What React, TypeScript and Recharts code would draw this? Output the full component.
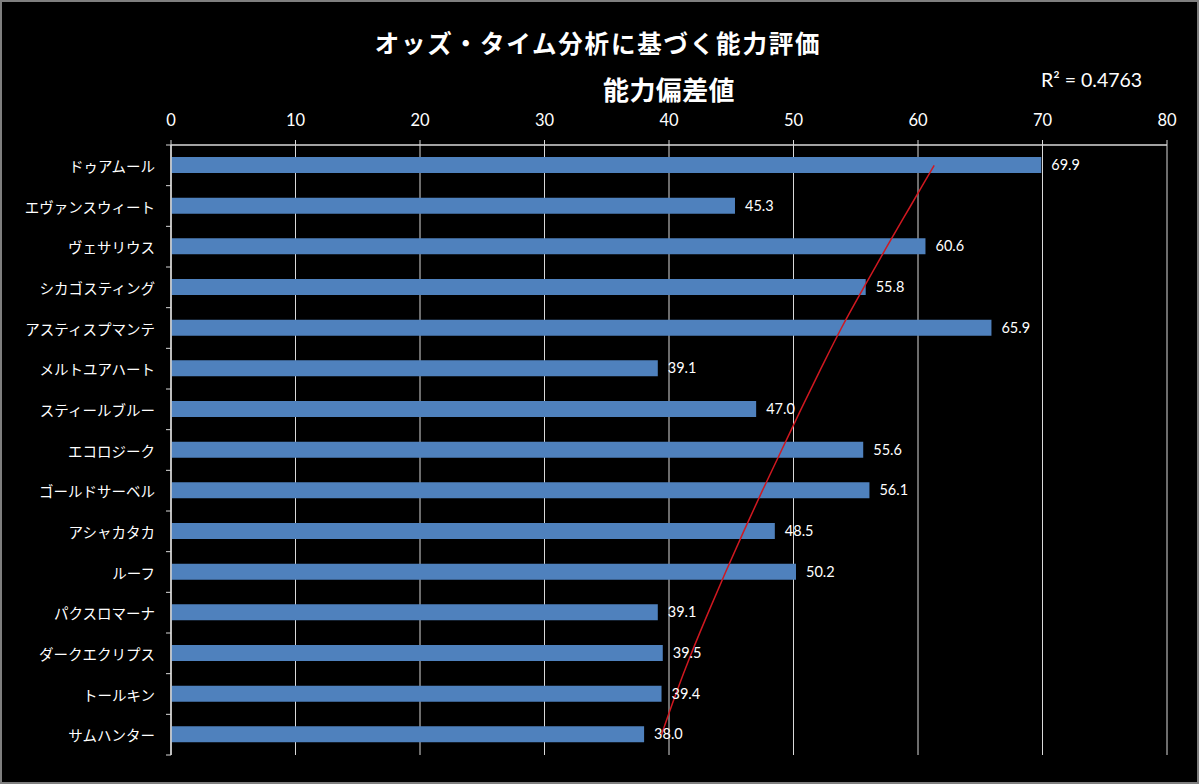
import React from 'react';
import {
  ComposedChart,
  Bar,
  Line,
  XAxis,
  YAxis,
  CartesianGrid,
  LabelList,
} from 'recharts';

// Horses (top to bottom) and their ability deviation scores
const horses = [
  'ドゥアムール',
  'エヴァンスウィート',
  'ヴェサリウス',
  'シカゴスティング',
  'アスティスプマンテ',
  'メルトユアハート',
  'スティールブルー',
  'エコロジーク',
  'ゴールドサーベル',
  'アシャカタカ',
  'ルーフ',
  'パクスロマーナ',
  'ダークエクリプス',
  'トールキン',
  'サムハンター',
];
const scores = [69.9, 45.3, 60.6, 55.8, 65.9, 39.1, 47.0, 55.6, 56.1, 48.5, 50.2, 39.1, 39.5, 39.4, 38.0];
// Trend line values at each horse
const trend = [61.3, 59.4, 57.5, 55.65, 53.85, 52.2, 50.6, 49.05, 47.5, 46.0, 44.55, 43.15, 41.8, 40.55, 39.4];
const xTicks = [0, 10, 20, 30, 40, 50, 60, 70, 80];

const chartTitle = 'オッズ・タイム分析に基づく能力評価';
const axisTitle = '能力偏差値';
const rSquared = 'R² = 0.4763';

const data = horses.map((name, i) => ({ name, score: scores[i], trend: trend[i] }));

const W = 1199;
const H = 784;
const MARGIN = { top: 110, right: 32, bottom: 29, left: 0 };
const X_AXIS_H = 35;
const Y_AXIS_W = 171;
const Y_TICK_GAP = 16;
const PLOT_H = H - MARGIN.top - X_AXIS_H - MARGIN.bottom;
const BAND = PLOT_H / horses.length;

const GRID = '#d9d9d9';
const BAR = '#4f81bd';
const NUM_FONT = 'Lato, "Open Sans", sans-serif';
const JP_FONT = '"Noto Sans CJK JP", "Noto Sans", sans-serif';

// Category label plus Excel-style tick marks between categories
const HorseTick = (props: any) => {
  const { x, y, payload, index } = props;
  const axisX = x + Y_TICK_GAP;
  return (
    <g>
      {index === 0 && (
        <line x1={axisX - 5} x2={axisX} y1={y - BAND / 2} y2={y - BAND / 2} stroke={GRID} strokeWidth={1} />
      )}
      <line x1={axisX - 5} x2={axisX} y1={y + BAND / 2} y2={y + BAND / 2} stroke={GRID} strokeWidth={1} />
      <text
        x={x}
        y={y}
        textAnchor="end"
        dominantBaseline="central"
        fill="#ffffff"
        fontSize={14.5}
        fontFamily={JP_FONT}
      >
        {payload.value}
      </text>
    </g>
  );
};

export default function App() {
  return (
    <div
      style={{
        position: 'absolute',
        left: 0,
        top: 0,
        width: W,
        height: H,
        background: '#000000',
        overflow: 'hidden',
      }}
    >
      <ComposedChart
        width={W}
        height={H}
        data={data}
        layout="vertical"
        margin={MARGIN}
      >
        <CartesianGrid horizontal={false} vertical stroke={GRID} strokeWidth={1} />
        <XAxis
          type="number"
          orientation="top"
          domain={[0, 80]}
          ticks={xTicks}
          interval={0}
          height={X_AXIS_H}
          tickSize={5}
          tickMargin={14}
          axisLine={{ stroke: GRID, strokeWidth: 1.5 }}
          tickLine={{ stroke: GRID }}
          tick={{ fill: '#ffffff', fontSize: 16.5, fontFamily: NUM_FONT }}
        />
        <XAxis
          xAxisId="bottom"
          type="number"
          orientation="bottom"
          domain={[0, 80]}
          height={0}
          tick={false}
          tickLine={false}
          axisLine={{ stroke: GRID, strokeWidth: 1.5 }}
        />
        <YAxis
          type="category"
          dataKey="name"
          width={Y_AXIS_W}
          interval={0}
          tickSize={0}
          tickMargin={Y_TICK_GAP}
          tickLine={false}
          axisLine={{ stroke: GRID, strokeWidth: 1.5 }}
          tick={<HorseTick />}
        />
        <Bar dataKey="score" fill={BAR} barSize={16} isAnimationActive={false}>
          <LabelList
            dataKey="score"
            position="right"
            offset={10}
            fill="#ffffff"
            fontSize={14.5}
            fontFamily={NUM_FONT}
            formatter={(v: any) => Number(v).toFixed(1)}
          />
        </Bar>
        <Line
          dataKey="trend"
          type="monotone"
          stroke="#d01820"
          strokeWidth={1.5}
          dot={false}
          activeDot={false}
          isAnimationActive={false}
        />
      </ComposedChart>

      <div
        style={{
          position: 'absolute',
          left: 0,
          width: 1196,
          top: 26,
          textAlign: 'center',
          color: '#ffffff',
          fontFamily: JP_FONT,
          fontWeight: 700,
          fontSize: 24.5,
          letterSpacing: 1.8,
          lineHeight: '34px',
        }}
      >
        {chartTitle}
      </div>
      <div
        style={{
          position: 'absolute',
          left: 171,
          width: 996,
          top: 71,
          textAlign: 'center',
          color: '#ffffff',
          fontFamily: JP_FONT,
          fontWeight: 700,
          fontSize: 26,
          letterSpacing: 0.4,
          lineHeight: '36px',
        }}
      >
        {axisTitle}
      </div>
      <div
        style={{
          position: 'absolute',
          left: 1041,
          top: 67,
          color: '#ffffff',
          fontFamily: NUM_FONT,
          fontSize: 19.5,
          lineHeight: '26px',
          whiteSpace: 'nowrap',
        }}
      >
        {rSquared}
      </div>
      <div
        style={{
          position: 'absolute',
          left: 0,
          top: 0,
          width: W,
          height: H,
          boxSizing: 'border-box',
          border: '2px solid #7f7f7f',
          pointerEvents: 'none',
        }}
      />
    </div>
  );
}
